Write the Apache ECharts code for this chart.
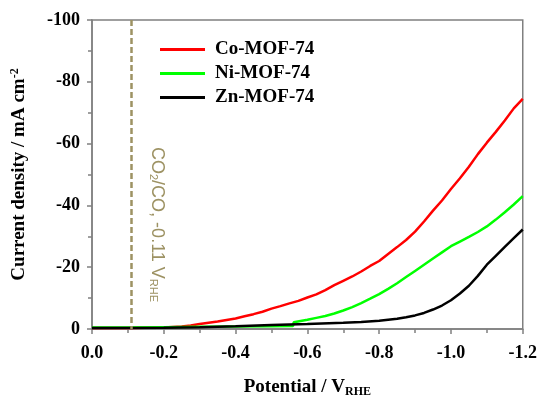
<!DOCTYPE html>
<html>
<head>
<meta charset="utf-8">
<script src="https://cdn.jsdelivr.net/npm/echarts@6/dist/echarts.min.js"></script>
<style>
  html, body { margin: 0; padding: 0; background: #fff; }
  #chart { width: 540px; height: 403px; }
</style>
</head>
<body>
<div id="chart"></div>
<script>
// potential (V vs RHE) and current density (mA cm-2)
var potCo = [0, -0.1, -0.2, -0.25, -0.275, -0.3, -0.325, -0.35, -0.375, -0.4, -0.425, -0.45, -0.475, -0.5,
  -0.525, -0.55, -0.575, -0.6, -0.625, -0.65, -0.675, -0.7, -0.725, -0.75, -0.775, -0.8, -0.825, -0.85,
  -0.875, -0.9, -0.925, -0.95, -0.975, -1.0, -1.025, -1.05, -1.075, -1.1, -1.125, -1.15, -1.175, -1.2];
var jCo = [-0.3, -0.3, -0.5, -0.8, -1.1, -1.6, -2.0, -2.4, -2.9, -3.4, -4.1, -4.8, -5.6, -6.6,
  -7.4, -8.3, -9.1, -10.2, -11.2, -12.6, -14.2, -15.6, -17.0, -18.6, -20.4, -22.0, -24.3, -26.5,
  -28.8, -31.5, -34.8, -38.3, -41.6, -45.3, -48.8, -52.5, -56.6, -60.3, -63.8, -67.5, -71.4, -74.5];

var potNi = [0, -0.1, -0.2, -0.3, -0.4, -0.5, -0.56, -0.562, -0.6, -0.625, -0.65, -0.675, -0.7, -0.725,
  -0.75, -0.775, -0.8, -0.825, -0.85, -0.875, -0.9, -0.925, -0.95, -0.975, -1.0, -1.025, -1.05,
  -1.075, -1.1, -1.125, -1.15, -1.175, -1.2];
var jNi = [-0.5, -0.5, -0.6, -0.7, -0.8, -0.9, -1.0, -2.2, -3.0, -3.6, -4.2, -5.0, -6.0, -7.1,
  -8.4, -9.8, -11.3, -13.0, -14.8, -16.8, -18.8, -20.8, -22.8, -24.8, -26.8, -28.3, -29.8,
  -31.4, -33.2, -35.4, -37.8, -40.3, -43.0];

var potZn = [0, -0.2, -0.3, -0.4, -0.5, -0.6, -0.7, -0.75, -0.8, -0.85, -0.875, -0.9, -0.925, -0.95,
  -0.975, -1.0, -1.025, -1.05, -1.075, -1.1, -1.125, -1.15, -1.175, -1.2];
var jZn = [-0.3, -0.4, -0.6, -0.9, -1.3, -1.6, -2.0, -2.3, -2.7, -3.3, -3.8, -4.4, -5.2, -6.3,
  -7.6, -9.3, -11.5, -14.0, -17.2, -20.8, -23.7, -26.6, -29.4, -32.2];

var seriesNames = ["Co-MOF-74", "Ni-MOF-74", "Zn-MOF-74"];
var eqPotential = -0.11;

function zip(xs, ys) {
  return xs.map(function (x, i) { return [x, ys[i]]; });
}

var serifBold = { fontFamily: "Liberation Serif", fontWeight: "bold", color: "#000" };
var olive = "#9d9263";
var frame = "#808080";

var chart = echarts.init(document.getElementById("chart"));
chart.setOption({
  animation: false,
  grid: { left: 92, right: 15, top: 20, bottom: 71, show: true, borderColor: frame, borderWidth: 1.5 },
  legend: {
    orient: "vertical",
    left: 155,
    top: 35,
    itemGap: 5,
    itemWidth: 45,
    itemHeight: 3,
    icon: "rect",
    textStyle: Object.assign({ fontSize: 19, padding: [0, 0, 0, 5] }, serifBold),
    data: seriesNames
  },
  xAxis: {
    type: "value",
    min: -1.2,
    max: 0,
    interval: 0.2,
    inverse: true,
    name: "Potential / V{sub|RHE}",
    nameLocation: "middle",
    nameGap: 48,
    nameTextStyle: Object.assign({
      fontSize: 19,
      rich: { sub: Object.assign({ fontSize: 12, verticalAlign: "bottom", padding: [9, 0, 0, 0] }, serifBold) }
    }, serifBold),
    axisLine: { onZero: false, lineStyle: { color: frame, width: 1.5 } },
    axisTick: { length: 5, lineStyle: { color: frame, width: 1.5 } },
    minorTick: { show: true, splitNumber: 2, length: 4, lineStyle: { color: frame, width: 1.5 } },
    splitLine: { show: false },
    axisLabel: Object.assign({
      fontSize: 18,
      margin: 15,
      formatter: function (v) { return v === 0 ? "0.0" : v.toFixed(1); }
    }, serifBold)
  },
  yAxis: {
    type: "value",
    min: -100,
    max: 0,
    interval: 20,
    inverse: true,
    name: "Current density / mA cm{sup|-2}",
    nameLocation: "middle",
    nameGap: 62,
    nameRotate: 90,
    nameTextStyle: Object.assign({
      fontSize: 19,
      rich: { sup: Object.assign({ fontSize: 12, verticalAlign: "top", padding: [0, 0, 9, 0] }, serifBold) }
    }, serifBold),
    axisLine: { onZero: false, lineStyle: { color: frame, width: 1.5 } },
    axisTick: { length: 5, lineStyle: { color: frame, width: 1.5 } },
    minorTick: { show: true, splitNumber: 2, length: 4, lineStyle: { color: frame, width: 1.5 } },
    splitLine: { show: false },
    axisLabel: Object.assign({ fontSize: 18, margin: 12 }, serifBold)
  },
  series: [
    {
      name: seriesNames[0],
      type: "line",
      data: zip(potCo, jCo),
      showSymbol: false,
      lineStyle: { color: "#ff0000", width: 2.5 },
      itemStyle: { color: "#ff0000" },
      markLine: {
        silent: true,
        symbol: "none",
        label: { show: false },
        lineStyle: { color: olive, type: [6, 3], width: 2.5 },
        data: [{ xAxis: eqPotential }]
      }
    },
    {
      name: seriesNames[1],
      type: "line",
      data: zip(potNi, jNi),
      showSymbol: false,
      lineStyle: { color: "#00ff00", width: 2.5 },
      itemStyle: { color: "#00ff00" }
    },
    {
      name: seriesNames[2],
      type: "line",
      data: zip(potZn, jZn),
      showSymbol: false,
      lineStyle: { color: "#000000", width: 2.5 },
      itemStyle: { color: "#000000" }
    }
  ],
  graphic: [{
    type: "text",
    x: 157,
    y: 147,
    rotation: -Math.PI / 2,
    style: {
      text: "CO{sub|2}/CO, -0.11 V{sub|RHE}",
      fontFamily: "Liberation Sans",
      fontSize: 18,
      fill: olive,
      textVerticalAlign: "middle",
      rich: { sub: { fontFamily: "Liberation Sans", fontSize: 11, fill: olive, verticalAlign: "bottom", padding: [8, 0, 0, 0] } }
    }
  }]
});
</script>
</body>
</html>
